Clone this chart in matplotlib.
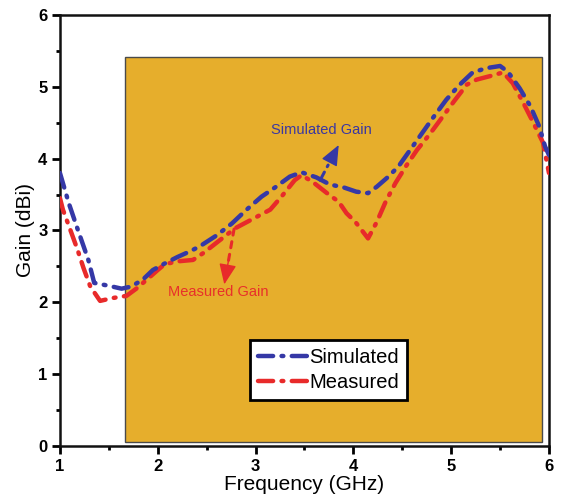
import matplotlib
matplotlib.use("Agg")
import matplotlib.pyplot as plt
from matplotlib.patches import Rectangle

plt.rcParams['font.family'] = ['Liberation Sans', 'DejaVu Sans']

sim_freq = [1.00, 1.09, 1.18, 1.29, 1.35, 1.50, 1.63, 1.73, 1.85, 1.95, 2.07, 2.20, 2.33,
            2.43, 2.60, 2.76, 2.90, 3.06, 3.20, 3.35, 3.47, 3.62, 3.76, 3.90, 4.03, 4.15,
            4.24, 4.35, 4.46, 4.58, 4.70, 4.82, 4.95, 5.08, 5.22, 5.36, 5.50, 5.58, 5.70,
            5.81, 5.90, 5.96, 6.00]
sim_gain = [3.80, 3.38, 3.02, 2.59, 2.27, 2.23, 2.19, 2.22, 2.32, 2.45, 2.54, 2.63, 2.71,
            2.78, 2.93, 3.10, 3.28, 3.47, 3.60, 3.75, 3.81, 3.74, 3.64, 3.60, 3.54, 3.52,
            3.61, 3.74, 3.89, 4.12, 4.35, 4.58, 4.82, 5.02, 5.20, 5.26, 5.29, 5.21, 4.98,
            4.73, 4.45, 4.17, 4.05]

meas_freq = [1.00, 1.03, 1.10, 1.18, 1.24, 1.31, 1.41, 1.54, 1.68, 1.78, 1.90, 2.00, 2.07,
             2.20, 2.36, 2.47, 2.62, 2.79, 2.97, 3.15, 3.27, 3.40, 3.47, 3.58, 3.73, 3.85,
             3.93, 4.02, 4.15, 4.24, 4.33, 4.43, 4.54, 4.65, 4.78, 4.90, 5.03, 5.16, 5.26,
             5.40, 5.53, 5.63, 5.74, 5.84, 5.94, 6.00]
meas_gain = [3.45, 3.29, 3.03, 2.73, 2.48, 2.22, 2.02, 2.06, 2.09, 2.19, 2.33, 2.45, 2.53,
             2.57, 2.59, 2.69, 2.85, 3.03, 3.16, 3.29, 3.48, 3.70, 3.77, 3.68, 3.52, 3.40,
             3.24, 3.12, 2.89, 3.12, 3.40, 3.66, 3.90, 4.12, 4.34, 4.56, 4.80, 5.03, 5.10,
             5.15, 5.20, 5.05, 4.77, 4.50, 4.22, 3.80]

x_ticks = [1, 2, 3, 4, 5, 6]
y_ticks = [0, 1, 2, 3, 4, 5, 6]

band_x0, band_x1 = 1.665, 5.925
band_y0, band_y1 = 0.06, 5.41

BLUE = '#3538a6'
RED = '#e82a2a'
GOLD = '#e6ae2c'

fig = plt.figure(figsize=(5.68, 4.99), dpi=100)
ax = fig.add_axes([0.1056, 0.1062, 0.8609, 0.8638])

ax.add_patch(Rectangle((band_x0, band_y0), band_x1 - band_x0, band_y1 - band_y0,
                       facecolor=GOLD, edgecolor='#4a4a4a', linewidth=1.0, zorder=1))

ds = (0, (3.4, 1.9, 0.4, 1.9))
ax.plot(sim_freq, sim_gain, color=BLUE, lw=3.2, linestyle=ds,
        dash_capstyle='round', label='Simulated', zorder=4)
ax.plot(meas_freq, meas_gain, color=RED, lw=3.2, linestyle=ds,
        dash_capstyle='round', label='Measured', zorder=3)


def pointer(start, tip, color, shaft_style):
    ax.annotate('', xy=tip, xytext=start,
                arrowprops=dict(arrowstyle='-', color=color, lw=2.2,
                                shrinkA=0, shrinkB=8, linestyle=shaft_style),
                zorder=5)
    mid = (start[0] + 0.55 * (tip[0] - start[0]), start[1] + 0.55 * (tip[1] - start[1]))
    ax.annotate('', xy=tip, xytext=mid,
                arrowprops=dict(arrowstyle='-|>,head_length=0.9,head_width=0.38',
                                mutation_scale=14, color=color, lw=1.0,
                                shrinkA=0, shrinkB=0),
                zorder=5)


pointer((3.66, 3.70), (3.85, 4.19), BLUE, (0, (3, 2, 0.6, 2)))
ax.text(3.67, 4.40, 'Simulated Gain', color='#3a37a2', fontsize=10.5,
        ha='center', va='center', zorder=5)

pointer((2.78, 3.02), (2.68, 2.25), RED, (0, (2, 2.2)))
ax.text(2.62, 2.15, 'Measured Gain', color='#e8302a', fontsize=10.5,
        ha='center', va='center', zorder=5)

ax.set_xlim(1, 6)
ax.set_ylim(0, 6)
ax.set_xticks(x_ticks)
ax.set_yticks(y_ticks)
ax.set_xticks([v + 0.5 for v in x_ticks[:-1]], minor=True)
ax.set_yticks([v + 0.5 for v in y_ticks[:-1]], minor=True)
ax.set_xticklabels([str(v) for v in x_ticks], fontweight='bold', fontsize=12)
ax.set_yticklabels([str(v) for v in y_ticks], fontweight='bold', fontsize=12)
ax.tick_params(which='major', direction='out', length=6, width=2, pad=3,
               top=False, right=False)
ax.tick_params(which='minor', direction='out', length=3, width=2,
               top=False, right=False)
for s in ax.spines.values():
    s.set_linewidth(1.8)
    s.set_color('#111111')

ax.set_xlabel('Frequency (GHz)', fontsize=15, labelpad=1)
ax.set_ylabel('Gain (dBi)', fontsize=15, labelpad=2)

leg = ax.legend(loc='upper left', bbox_to_anchor=(0.389, 0.246), borderaxespad=0,
                fontsize=14.5, handlelength=2.5, handletextpad=0.05,
                labelspacing=0.3, borderpad=0.4, fancybox=False, framealpha=1,
                edgecolor='black')
leg.get_frame().set_linewidth(2.0)

fig.savefig('out.png', dpi=100, facecolor='white')
